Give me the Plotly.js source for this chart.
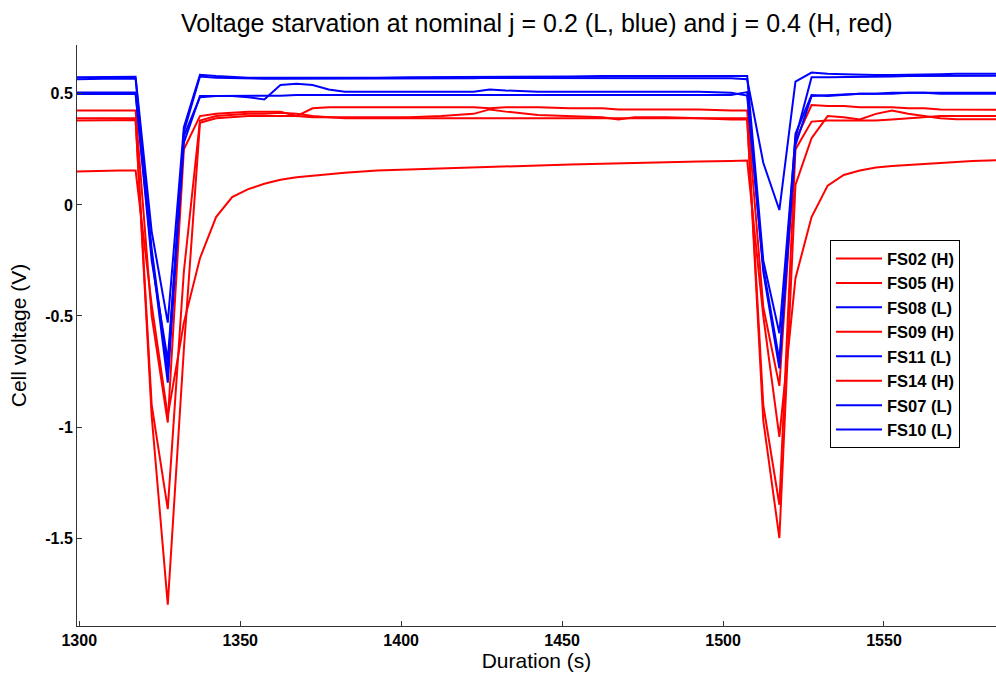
<!DOCTYPE html>
<html>
<head>
<meta charset="utf-8">
<script src="https://cdn.plot.ly/plotly-3.0.1.min.js"></script>
<style>html,body{margin:0;padding:0;background:#fff;}#chart{width:996px;height:673px;}</style>
</head>
<body>
<div id="chart"></div>
<script>
// Sample times (s)
const time = [1297.5,1302.5,1307.5,1312.5,1317.5,1322.5,1327.5,1332.5,1337.5,
  1342.5,1347.5,1352.5,1357.5,1362.5,1367.5,1372.5,1377.5,1382.5,1392.5,1402.5,1412.5,1422.5,1427.5,1432.5,1442.5,1452.5,1462.5,1467.5,1472.5,1482.5,1492.5,1502.5,1507.5,
  1512.5,1517.5,1522.5,1527.5,
  1532.5,1537.5,1542.5,1547.5,1552.5,1557.5,1562.5,1567.5,1572.5,1577.5,1582.5,1587.5];

const seriesNames = ["FS02 (H)","FS05 (H)","FS08 (L)","FS09 (H)","FS11 (L)","FS14 (H)","FS07 (L)","FS10 (L)"];

const fs02 = [0.425,0.425,0.425,0.425,0.425,-0.50,-0.98,0.25,0.40,
  0.41,0.415,0.42,0.42,0.42,0.40,0.435,0.44,0.44,0.44,0.44,0.44,0.44,0.435,0.44,0.44,0.435,0.435,0.43,0.43,0.43,0.43,0.425,0.425,
  -0.46,-0.815,0.29,0.45,
  0.445,0.445,0.44,0.44,0.44,0.435,0.435,0.43,0.43,0.43,0.428,0.428];
const fs05 = [0.39,0.39,0.39,0.39,0.39,-0.95,-1.80,-0.65,0.37,
  0.39,0.395,0.40,0.40,0.40,0.40,0.395,0.395,0.395,0.395,0.395,0.40,0.41,0.43,0.42,0.405,0.40,0.395,0.385,0.395,0.395,0.39,0.39,0.39,
  -0.97,-1.50,0.09,0.30,
  0.40,0.395,0.385,0.41,0.425,0.41,0.40,0.39,0.386,0.386,0.386,0.386];
const fs08 = [0.575,0.575,0.577,0.577,0.577,-0.12,-0.53,0.35,0.586,
  0.58,0.575,0.572,0.572,0.572,0.572,0.57,0.57,0.57,0.572,0.575,0.575,0.575,0.575,0.575,0.575,0.578,0.58,0.58,0.58,0.578,0.578,0.578,0.58,
  -0.25,-0.578,0.30,0.575,
  0.575,0.575,0.575,0.578,0.578,0.58,0.58,0.582,0.582,0.582,0.582,0.582];
const fs09 = [0.38,0.38,0.382,0.382,0.382,-0.90,-1.37,-0.30,0.38,
  0.40,0.405,0.41,0.41,0.415,0.41,0.40,0.395,0.39,0.39,0.39,0.39,0.39,0.39,0.39,0.39,0.39,0.39,0.39,0.39,0.39,0.39,0.385,0.385,
  -0.90,-1.35,0.25,0.375,
  0.38,0.38,0.38,0.38,0.385,0.39,0.395,0.40,0.40,0.40,0.40,0.40];
const fs11 = [0.565,0.568,0.568,0.568,0.568,-0.20,-0.75,0.33,0.578,
  0.572,0.57,0.568,0.568,0.568,0.568,0.568,0.568,0.568,0.57,0.57,0.57,0.57,0.572,0.572,0.572,0.572,0.572,0.572,0.572,0.572,0.572,0.57,0.566,
  0.19,-0.023,0.555,0.596,
  0.59,0.588,0.585,0.585,0.585,0.585,0.585,0.588,0.59,0.59,0.59,0.59];
const fs14 = [0.15,0.152,0.155,0.155,0.155,-0.45,-0.95,-0.53,-0.24,
  -0.055,0.035,0.071,0.095,0.113,0.125,0.132,0.138,0.145,0.155,0.16,0.165,0.17,0.172,0.175,0.178,0.182,0.185,0.187,0.19,0.192,0.195,0.198,0.2,
  -0.50,-1.044,-0.33,-0.055,
  0.087,0.135,0.155,0.168,0.175,0.18,0.185,0.19,0.195,0.198,0.2,0.202];
const fs07 = [0.506,0.506,0.506,0.506,0.506,-0.22,-0.80,0.31,0.485,
  0.49,0.49,0.492,0.492,0.492,0.495,0.495,0.495,0.495,0.495,0.495,0.495,0.495,0.495,0.495,0.495,0.495,0.495,0.495,0.495,0.495,0.495,0.495,0.508,
  -0.30,-0.736,0.27,0.49,
  0.495,0.497,0.50,0.50,0.50,0.505,0.505,0.50,0.50,0.50,0.50,0.50];
const fs10 = [0.499,0.499,0.499,0.499,0.499,-0.25,-0.70,0.28,0.49,
  0.49,0.49,0.485,0.475,0.54,0.545,0.54,0.52,0.51,0.51,0.51,0.51,0.51,0.52,0.515,0.51,0.51,0.51,0.51,0.51,0.51,0.51,0.505,0.492,
  -0.28,-0.70,0.32,0.495,
  0.49,0.495,0.50,0.50,0.505,0.505,0.505,0.505,0.505,0.505,0.505,0.505];

const seriesValues = [fs02, fs05, fs08, fs09, fs11, fs14, fs07, fs10];
const seriesColors = ["#ff0000","#ff0000","#0000ff","#ff0000","#0000ff","#ff0000","#0000ff","#0000ff"];

const xTicks = [1300,1350,1400,1450,1500,1550];
const yTicks = [-1.5,-1,-0.5,0,0.5];
const yTickText = ["-1.5","-1","-0.5","0","0.5"];

const traces = seriesNames.map((n, i) => ({
  x: time, y: seriesValues[i], name: n, type: "scatter", mode: "lines",
  line: {color: seriesColors[i], width: 2}
}));

const FONT = "Arial, 'Liberation Sans', sans-serif";
const tickFont = {family: FONT, size: 16, color: "#000", weight: "bold"};

const layout = {
  width: 996, height: 673,
  paper_bgcolor: "#fff", plot_bgcolor: "#fff",
  margin: {l: 77, r: 0, t: 45, b: 47},
  title: {text: "Voltage starvation at nominal j = 0.2 (L, blue) and j = 0.4 (H, red)",
    font: {family: FONT, size: 25, color: "#000"},
    x: 0.539, xanchor: "center", y: 0.965, yanchor: "middle"},
  xaxis: {
    range: [1299.3, 1584.8], tickvals: xTicks, ticks: "inside", ticklen: 5, tickcolor: "#333",
    showline: true, linecolor: "#333", linewidth: 1, mirror: false, showgrid: false, zeroline: false,
    tickfont: tickFont,
    title: {text: "Duration (s)", font: {family: FONT, size: 21, color: "#000"}, standoff: 3}
  },
  yaxis: {
    range: [-1.896, 0.72], tickvals: yTicks, ticktext: yTickText, ticks: "inside", ticklen: 5, tickcolor: "#333",
    showline: true, linecolor: "#333", linewidth: 1, mirror: false, showgrid: false, zeroline: false,
    tickfont: tickFont,
    title: {text: "Cell voltage (V)", font: {family: FONT, size: 21, color: "#000"}, standoff: 12}
  },
  showlegend: true,
  legend: {
    x: 0.8194, y: 0.664, xanchor: "left", yanchor: "top",
    bgcolor: "#fff", bordercolor: "#000", borderwidth: 1,
    font: {family: FONT, size: 16.5, color: "#000", weight: "bold"},
    itemwidth: 46,
    tracegroupgap: 0
  }
};

Plotly.newPlot("chart", traces, layout, {displayModeBar: false, staticPlot: true});
</script>
</body>
</html>
